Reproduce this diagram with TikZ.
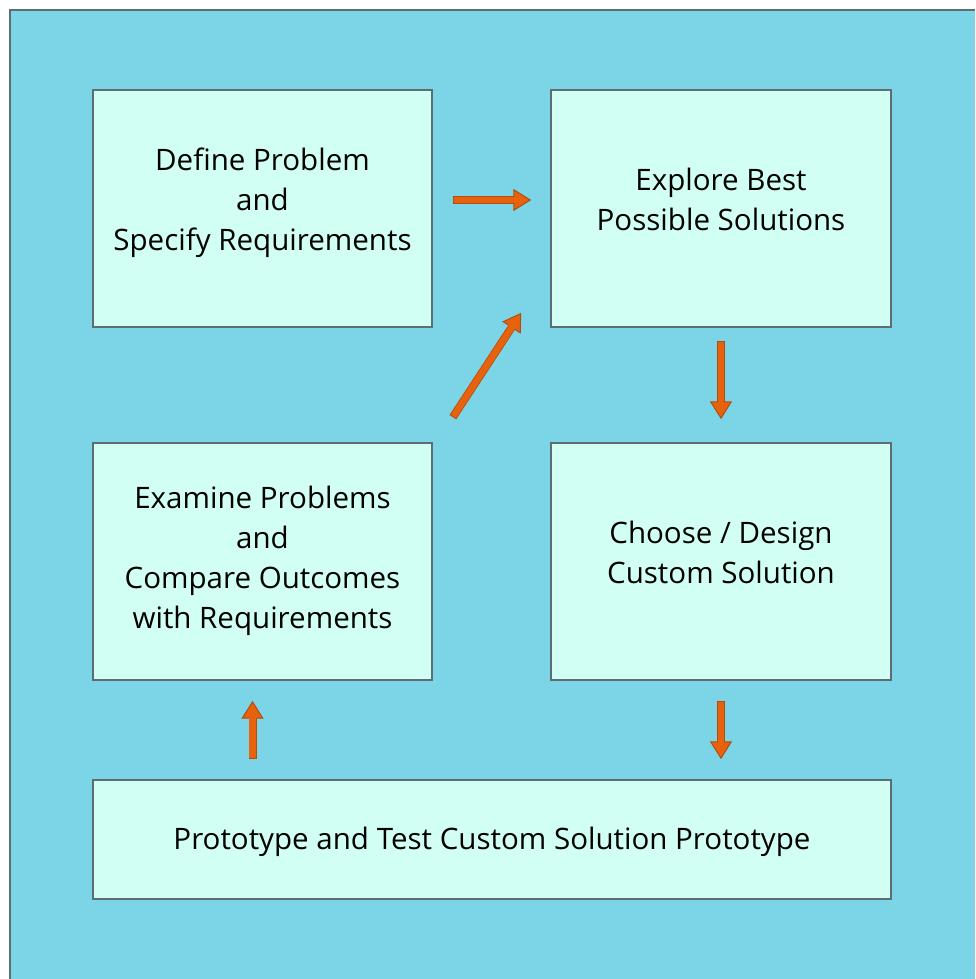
\documentclass[tikz,border=0pt]{standalone}
\usepackage{fontspec}
\setmainfont{Open Sans}
\usetikzlibrary{arrows.meta}
\newcommand\pix{0.025cm}
\definecolor{backblue}{HTML}{7BD5E6}
\definecolor{boxmint}{HTML}{D2FFF4}
\definecolor{boxedge}{HTML}{5C6E73}
\definecolor{arrowfill}{HTML}{E8620E}
\definecolor{arrowedge}{HTML}{B04E12}
\tikzset{
  stage/.style={draw=boxedge, line width=1.2pt, fill=boxmint, inner sep=0pt},
  caption/.style={align=center, font=\fontsize{21}{28.4}\selectfont, inner sep=0pt},
  flow/.style 2 args={draw=arrowedge, line width=8*\pix,
    -{Triangle[length=12.6pt, width=15.6pt, line width=0.7pt, fill=arrowfill]},
    shorten <=#1*\pix, shorten >=#2*\pix,
    postaction={draw=arrowfill, line width=6.4*\pix, -,
      shorten <=(#1+1)*\pix, shorten >=(#2+16)*\pix}}
}
\begin{document}
\begin{tikzpicture}[x=0.025cm, y=-0.025cm]
  \useasboundingbox (0,0) rectangle (975,979);
  \fill[backblue] (10,10) rectangle (975,979);
  \draw[boxedge, line width=1.4pt] (10,979) -- (10,10) -- (975,10);

  \node[stage, minimum width=339*\pix, minimum height=237*\pix,
    label={[caption, yshift=6*\pix]center:Define Problem\\and\\Specify Requirements}]
    (define) at (262.5,208.5) {};
  \node[stage, minimum width=340*\pix, minimum height=237*\pix,
    label={[caption, yshift=9*\pix]center:Explore Best\\Possible Solutions}]
    (explore) at (721,208.5) {};
  \node[stage, minimum width=339*\pix, minimum height=237*\pix,
    label={[caption, yshift=1*\pix]center:Examine Problems\\and\\Compare Outcomes\\with Requirements}]
    (examine) at (262.5,561.5) {};
  \node[stage, minimum width=340*\pix, minimum height=237*\pix,
    label={[caption, yshift=9*\pix]center:Choose / Design\\Custom Solution}]
    (choose) at (721,561.5) {};
  \node[stage, minimum width=798*\pix, minimum height=119*\pix,
    label={[caption, yshift=-2*\pix]center:Prototype and Test Custom Solution Prototype}]
    (prototype) at (492,839.5) {};

  \draw[flow={20}{19}] ([yshift=8.5*\pix]define.east) -- ([yshift=8.5*\pix]explore.west);
  \draw[flow={13}{23}] (explore.south) -- (choose.north);
  \draw[flow={20}{20}] (choose.south) -- (choose.south |- prototype.north);
  \draw[flow={20}{20}] ([xshift=-10*\pix]examine.south |- prototype.north) -- ([xshift=-10*\pix]examine.south);
  \draw[flow={0}{0}] ([shift={(20,-25)}]examine.north east) -- ([shift={(-29,-15)}]explore.south west);
\end{tikzpicture}
\end{document}
